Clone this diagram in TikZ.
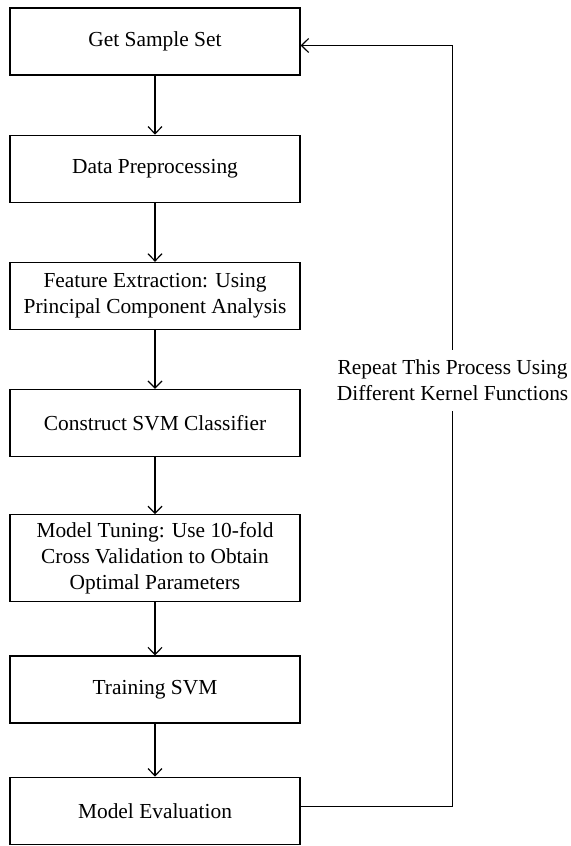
\documentclass[tikz,border=0pt]{standalone}
\usepackage{fontspec}
\setmainfont{Liberation Serif}
\usepackage{tikz}
\usetikzlibrary{arrows.meta,positioning}

\begin{document}
\begin{tikzpicture}[
    stepbox/.style={rectangle, draw=black, line width=0.6pt,
                    minimum width=145pt, minimum height=33.5pt,
                    align=center, inner sep=2pt,
                    font=\fontsize{10.7pt}{13pt}\selectfont},
    arr/.style={-{Straight Barb[length=3.6pt,width=7pt]}, line width=0.6pt},
    lbl/.style={fill=white, align=center, inner xsep=1pt, inner ysep=5pt,
                font=\fontsize{10.7pt}{13pt}\selectfont},
    node distance=29.5pt,
  ]

  \useasboundingbox (0,0) rectangle (285.5pt,-423pt);

  %% main column
  \node[stepbox] (sample) at (77.5pt,-20.75pt) {Get Sample Set};
  \node[stepbox, below=of sample] (prep)  {Data Preprocessing};
  \node[stepbox, below=of prep]   (pca)   {Feature Extraction: Using\\Principal Component Analysis};
  \node[stepbox, below=of pca]    (svm)   {Construct SVM Classifier};
  \node[stepbox, below=28.5pt of svm, minimum height=43.5pt] (tune)
    {Model Tuning: Use 10-fold\\Cross Validation to Obtain\\Optimal Parameters};
  \node[stepbox, below=26.5pt of tune]  (train) {Training SVM};
  \node[stepbox, below=26.5pt of train] (eval)  {Model Evaluation};

  \draw[arr] (sample)--(prep);
  \draw[arr] (prep)--(pca);
  \draw[arr] (pca)--(svm);
  \draw[arr] (svm)--(tune);
  \draw[arr] (tune)--(train);
  \draw[arr] (train)--(eval);

  %% feedback loop
  \draw[arr] ([yshift=2pt]eval.east) -- ++(76pt,0) |-
             node[lbl, pos=0.28] {Repeat This Process Using\\Different Kernel Functions}
             ([yshift=-2pt]sample.east);

\end{tikzpicture}
\end{document}
